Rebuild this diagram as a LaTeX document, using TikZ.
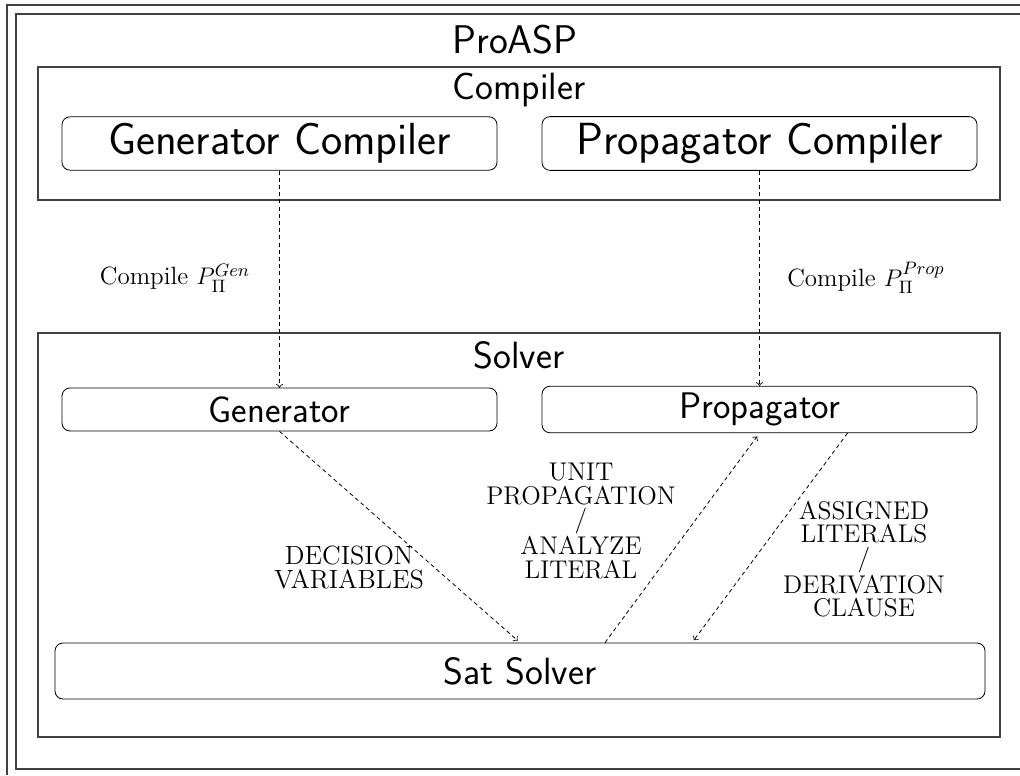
\documentclass[tikz,border=0pt]{standalone}
\usepackage{amsmath}
\usetikzlibrary{positioning,calc}
\begin{document}
\begin{tikzpicture}[x=0.5pt,y=-0.5pt,
  frame/.style={draw=black!75, line width=0.55pt, minimum width=481pt},
  block/.style={draw, rounded corners=4pt, minimum width=217.5pt, minimum height=22pt, font=\sffamily\fontsize{18.5}{22}\selectfont},
  bigblock/.style={block, font=\sffamily\fontsize{22.5}{27}\selectfont},
  title/.style={font=\sffamily\fontsize{19}{23}\selectfont},
  flow/.style={->, dash pattern=on 2pt off 1.6pt},
  lbl/.style={align=center, font=\fontsize{12.8}{11.8}\selectfont}]
\useasboundingbox (0,0) rectangle (1020,775);
% outer frames (cut at the page edge)
\draw [black!75, line width=0.55pt] (1020,5) -- (7,5) -- (7,775);
\draw [black!75, line width=0.55pt] (1020,14) -- (16,14) -- (16,769) -- (1020,769);
\node [title, font=\sffamily\fontsize{20}{24}\selectfont] (proasp) at (515,40) {ProASP};
% compiler part
\node [frame, minimum height=66.5pt] (compiler) at (519,133.5) {};
\node [title] (comptitle) at (519,90) {Compiler};
\node [bigblock] (gencomp) at (279.5,143.5) {Generator Compiler};
\node [bigblock] (propcomp) at (759.5,143.5) {Propagator Compiler};
% solver part
\node [frame, minimum height=202pt] (solver) at (519,535) {};
\node [title] (soltitle) at (519,355) {Solver};
\node [block, minimum height=21.5pt] (gen) at (279.5,409.5) {Generator};
\node [block, minimum height=21.5pt] (prop) at (759.5,409.5) {Propagator};
\node [block, minimum width=465pt, minimum height=28pt, font=\sffamily\fontsize{19}{23}\selectfont] (sat) at (520,671) {Sat Solver};
% compilation
\draw [flow] (gencomp.south) -- (gen.north);
\draw [flow] (propcomp.south) -- (prop.north);
\node [font=\fontsize{12.5}{15}\selectfont] (cgen) at (175,278) {Compile $P_{\Pi}^{Gen}$};
\node [font=\fontsize{12.5}{15}\selectfont] (cprop) at (866,278) {Compile $P_{\Pi}^{Prop}$};
% solving loop
\draw [flow, shorten >=1.5pt] (gen.south) -- (sat.north);
\draw [flow, shorten >=2pt] ([xshift=42.5pt]sat.north) -- (prop.south);
\draw [flow, shorten >=1.5pt] ([xshift=44pt]prop.south) -- ([xshift=86pt]sat.north);
\node [lbl, font=\fontsize{13.2}{12}\selectfont] (dec) at (349,567) {DECISION\\VARIABLES};
\node [lbl] (unit) at (581,521) {UNIT\\PROPAGATION\\/\\ANALYZE\\LITERAL};
\node [lbl] (assign) at (864,559) {ASSIGNED\\LITERALS\\/\\DERIVATION\\CLAUSE};
\end{tikzpicture}
\end{document}
